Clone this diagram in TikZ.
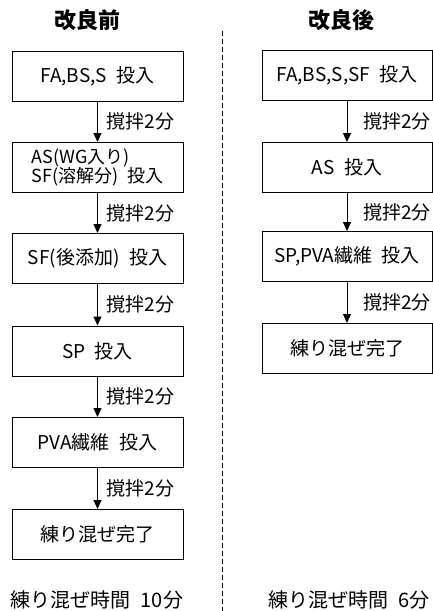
\documentclass[tikz,border=0pt]{standalone}
\usepackage{fontspec}
\setmainfont{Noto Sans CJK JP}
\usetikzlibrary{arrows.meta}
\newcommand{\gap}{\hspace{0.5em}}
\tikzset{
  box/.style={draw=black, line width=1pt, rectangle, minimum width=171pt, minimum height=50pt, inner sep=0pt, font=\fontsize{19}{22}\selectfont},
  arr/.style={draw=black, line width=1pt, -{Triangle[length=9pt,width=8pt]}},
  lbl/.style={anchor=west, inner sep=0pt, font=\fontsize{19}{22}\selectfont},
  ttl/.style={inner sep=0pt, font=\fontsize{22}{26}\selectfont\bfseries},
  tot/.style={inner sep=0pt, font=\fontsize{20}{24}\selectfont},
}
\begin{document}
\begin{tikzpicture}[x=1pt, y=-1pt]
\useasboundingbox (0,0) rectangle (433,611);
% titles
\node[ttl] (t1) at (87,20) {改良前};
\node[ttl] (t2) at (341,20) {改良後};
% divider
\coordinate (d1) at (222,31);
\coordinate (d2) at (222,611);
\draw[line width=0.8pt, dash pattern=on 5pt off 3pt] (d1) -- (d2);
% left column
\node[box] (a1) at (97.5,76) {FA,BS,S\gap 投入};
\node[box, font=\fontsize{18}{19}\selectfont, align=left] (a2) at (97.5,167.5) {AS(WG入り)\\SF(溶解分)\gap 投入};
\node[box] (a3) at (97.5,258.5) {SF(後添加)\gap 投入};
\node[box] (a4) at (97.5,351) {SP\gap 投入};
\node[box] (a5) at (97.5,442.5) {PVA繊維\gap 投入};
\node[box] (a6) at (97.5,534.5) {練り混ぜ完了};
\foreach \u/\v in {a1/a2,a2/a3,a3/a4,a4/a5,a5/a6}{
  \draw[arr] (\u) -- (\v);
  \path (\u.south) -- (\v.north) node[midway, lbl, xshift=9pt] {撹拌2分};
}
% right column
\node[box, minimum width=170pt] (b1) at (347,75) {FA,BS,S,SF\gap 投入};
\node[box, minimum width=170pt] (b2) at (347,167.5) {AS\gap 投入};
\node[box, minimum width=170pt] (b3) at (347,256.5) {SP,PVA繊維\gap 投入};
\node[box, minimum width=170pt] (b4) at (347,348.5) {練り混ぜ完了};
\foreach \u/\v in {b1/b2,b2/b3,b3/b4}{
  \draw[arr] (\u) -- (\v);
  \path (\u.south) -- (\v.north) node[midway, lbl, xshift=16pt] {撹拌2分};
}
% totals
\node[tot] (s1) at (97,600) {練り混ぜ時間\gap 10分};
\node[tot] (s2) at (349,600) {練り混ぜ時間\gap 6分};
\end{tikzpicture}
\end{document}
